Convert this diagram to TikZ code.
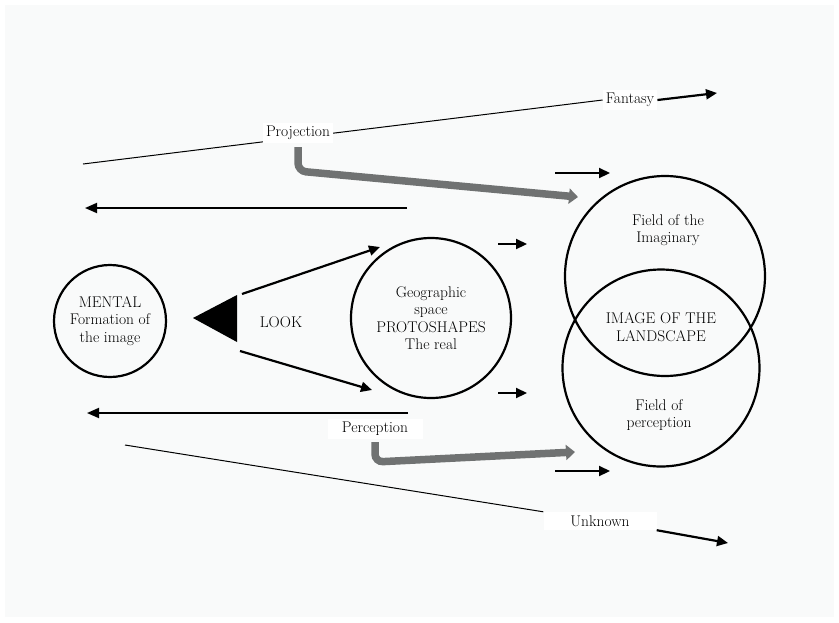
\documentclass[tikz,border=0pt]{standalone}
\usetikzlibrary{arrows.meta}
\definecolor{paper}{RGB}{249,250,250}
\definecolor{pipe}{RGB}{112,114,114}
\pgfdeclarelayer{back}
\pgfsetlayers{back,main}
\begin{document}
\begin{tikzpicture}[x=1pt,y=-1pt,
    every node/.style={font=\fontsize{15.5}{17.5}\selectfont,align=center},
    ring/.style={draw,line width=2.2pt,circle,inner sep=0pt},
    tag/.style={fill=white,inner sep=3pt},
    thin line/.style={line width=1pt},
    blackarrow/.style={line width=2.2pt,-{Triangle[length=11pt,width=10pt]}},
    longarrow/.style={line width=1.8pt,-{Triangle[length=12pt,width=10pt]}},
    pipearrow/.style={pipe,line width=7.5pt,rounded corners=8pt,-{Triangle[length=9pt,width=15pt]}}
    ]
\useasboundingbox (0,0) rectangle (839,622);
\begin{pgfonlayer}{back}
\fill[paper] (5,5) rectangle (834,617);
\end{pgfonlayer}
% circles
\node[ring,minimum size=112pt] (mental) at (110,321) {MENTAL\\Formation of\\the image};
\node[ring,minimum size=160pt] (real) at (431,318) {Geographic\\space\\PROTOSHAPES\\The real};
\node[ring,minimum size=200pt] (imaginary) at (665,276) {};
\node[ring,minimum size=197pt] (perceived) at (661,368) {};
\node (imaginarytext) at (668,230) {Field of the\\Imaginary};
\node (landscape) at (661,327) {IMAGE OF THE\\LANDSCAPE};
\node (perceivedtext) at (659,415) {Field of\\perception};
% look
\coordinate (tip) at (193,318);
\coordinate (top) at (237,295);
\coordinate (bot) at (237,342);
\fill (tip) -- (top) -- (bot) -- cycle;
\node (look) at (281,322) {LOOK};
\coordinate (lookA) at (242,294);
\coordinate (lookAend) at (380,247);
\coordinate (lookB) at (240,351);
\coordinate (lookBend) at (372,390);
\draw[blackarrow] (lookA) -- (lookAend);
\draw[blackarrow] (lookB) -- (lookBend);
% projection / fantasy
\coordinate (projstart) at (83,164);
\coordinate (fantasyend) at (717,93);
\coordinate (projtip) at (578,197);
\node[tag] (projection) at (298,133) {Projection};
\node[tag] (fantasy) at (630,100) {Fantasy};
\begin{pgfonlayer}{back}
\draw[thin line] (projstart) -- (fantasy.west);
\end{pgfonlayer}
\draw[blackarrow] (fantasy.east) -- (fantasyend);
\draw[pipearrow] ([yshift=-4pt]projection.south) -- ++(0,24) -- (projtip);
% perception / unknown
\coordinate (unkstart) at (125,445);
\coordinate (unkend) at (728,543);
\coordinate (perctip) at (575,452);
\node[tag,minimum width=95pt] (perception) at (375,429) {Perception};
\node[tag,minimum width=113pt,minimum height=18pt] (unknown) at (600,521) {Unknown};
\begin{pgfonlayer}{back}
\draw[thin line] (unkstart) -- (unknown.north west);
\end{pgfonlayer}
\draw[blackarrow] (unknown.south east) -- (unkend);
\draw[pipearrow] ([yshift=-3pt]perception.south) -- ++(0,20) -- (perctip);
% back to the mind
\coordinate (backA) at (407,208);
\coordinate (backAend) at (85,208);
\coordinate (backB) at (408,413);
\coordinate (backBend) at (87,413);
\draw[longarrow] (backA) -- (backAend);
\draw[longarrow] (backB) -- (backBend);
% small arrows
\foreach \xa/\xb/\y in {555/610/173,498/527/244,498/527/393,555/610/471}
    \draw[blackarrow] (\xa,\y) -- (\xb,\y);
\end{tikzpicture}
\end{document}
